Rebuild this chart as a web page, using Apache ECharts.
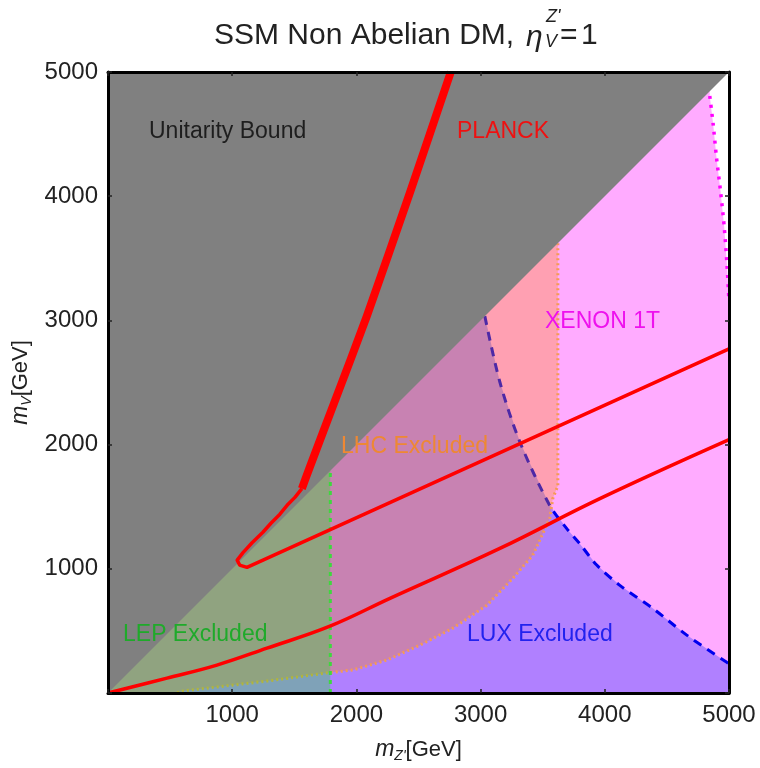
<!DOCTYPE html>
<html><head><meta charset="utf-8">
<script src="https://cdn.jsdelivr.net/npm/echarts@6/dist/echarts.min.js"></script>
<style>html,body{margin:0;padding:0;background:#fff}#c{width:760px;height:768px}</style>
</head><body><div id="c"></div>
<script>
// ---- data (GeV) ----
const axisTicks = [0, 1000, 2000, 3000, 4000, 5000];
const unitarityRegion = [[0, 0], [5000, 5000], [0, 5000]];
const xenonBoundary = [[4845, 4807], [4872, 4583], [4900, 4306], [4933, 4029], [4962, 3748], [4984, 3443], [5000, 3150]];
const luxBoundary = [[3034, 3034], [3155, 2504], [3316, 2022], [3557, 1509], [3694, 1324], [3800, 1200], [3935, 1030], [4121, 867], [4386, 682], [4660, 466], [4966, 257], [5000, 235]];
const lhcBoundary = [[3622, 3622], [3622, 1669], [3581, 1565], [3557, 1405], [3420, 1108], [3259, 923], [3050, 706], [2777, 522], [2511, 385], [2245, 265], [1972, 185], [1790, 165], [1280, 96], [604, 16], [550, 0]];
const lepBoundary = [[1790, 0], [1790, 1790]];
const planckThick = [[2760, 5000], [2431, 4029], [2084, 3034], [1827, 2352], [1626, 1822], [1561, 1645]];
const planckUpper = [[1561, 1645], [1505, 1575], [1450, 1520], [1384, 1440], [1310, 1365], [1247, 1294], [1160, 1210], [1087, 1130], [1040, 1070], [1060, 1030], [1119, 1012], [5000, 2770]];
const planckLower = [[0, 0], [475, 120], [877, 225], [1280, 361], [1787, 538], [2270, 762], [3155, 1164], [3960, 1565], [5000, 2040]];

// ---- regions built from the boundaries (upper parts are hidden under the unitarity region) ----
const xenonRegion = [[0, 0], [0, 5000], [4845, 5000]].concat(xenonBoundary, [[5000, 0]]);
const luxRegion = [[0, 0], [0, 5000], [3034, 5000]].concat(luxBoundary, [[5000, 0]]);
const lhcRegion = [[0, 0], [0, 5000], [3622, 5000]].concat(lhcBoundary);
const lepRegion = [[0, 0], [0, 5000], [1790, 5000], [1790, 0]];

function poly(pts, fill, z) {
  return {
    type: 'custom', coordinateSystem: 'cartesian2d', data: [[0, 0]], z: z, silent: true, clip: true,
    renderItem: function (p, api) {
      return { type: 'polygon', shape: { points: pts.map(function (q) { return api.coord(q); }) }, style: { fill: fill } };
    }
  };
}
function line(pts, color, width, type, z, smooth) {
  return { type: 'line', data: pts, symbol: 'none', showSymbol: false, smooth: smooth || false, z: z, silent: true, clip: true,
    lineStyle: { color: color, width: width, type: type, cap: 'butt', join: 'round' } };
}

const tickFont = { fontFamily: 'Liberation Sans', fontSize: 24, color: '#222' };
const nameRich = {
  m: { fontFamily: 'Liberation Sans', fontStyle: 'italic', fontSize: 23, color: '#222' },
  s: { fontFamily: 'Liberation Sans', fontStyle: 'italic', fontSize: 14, color: '#222', padding: [12, 0, 0, 0] },
  g: { fontFamily: 'Liberation Sans', fontSize: 22, color: '#222' }
};
function axisCommon(showLabel) {
  return {
    type: 'value', min: 0, max: 5000, interval: 1000, z: 10,
    axisLine: { show: true, onZero: false, lineStyle: { color: '#000', width: 3 } },
    axisTick: { show: true, inside: true, length: 4, lineStyle: { color: '#222', width: 1.5 } },
    splitLine: { show: false },
    axisLabel: Object.assign({ show: showLabel, margin: 10, formatter: function (v) { return axisTicks.indexOf(v) > 0 ? String(v) : ''; } }, tickFont)
  };
}

const chart = echarts.init(document.getElementById('c'), null, { renderer: 'canvas' });
const txt = function (x, y, s, color, font) {
  return { type: 'text', x: x, y: y, z: 100,
    style: { text: s, fill: color, font: font || '23px "Liberation Sans"', textVerticalAlign: 'middle' } };
};
chart.setOption({
  animation: false,
  backgroundColor: '#fff',
  grid: { left: 108, right: 31, top: 72, bottom: 73 },
  xAxis: [
    Object.assign(axisCommon(true), { position: 'bottom', name: "{m|m}{s|Z'}{g|[GeV]}", nameLocation: 'middle', nameGap: 44, nameTextStyle: { rich: nameRich } }),
    Object.assign(axisCommon(false), { position: 'top' })
  ],
  yAxis: [
    Object.assign(axisCommon(true), { position: 'left', name: '{m|m}{s|V}{g|[GeV]}', nameLocation: 'middle', nameRotate: 90, nameGap: 48, nameTextStyle: { rich: nameRich } }),
    Object.assign(axisCommon(false), { position: 'right' })
  ],
  series: [
    poly(xenonRegion, '#ffabff', 1),
    poly(luxRegion, '#b080ff', 2),
    line(luxBoundary, '#0000ee', 3, [9, 7], 3, 0.3),
    line(xenonBoundary, '#ff00ff', 3.5, [3, 6], 3, 0.3),
    poly(lhcRegion, 'rgba(255,135,0,0.3)', 4),
    line(lhcBoundary, '#f59a55', 3, [2, 3], 5),
    poly(lepRegion, 'rgba(0,250,0,0.28)', 6),
    line(lepBoundary, '#3ed83e', 3, [4, 5], 7),
    poly(unitarityRegion, '#808080', 8),
    line(planckLower, '#ff0000', 3.5, 'solid', 9, 0.4),
    line(planckUpper, '#ff0000', 3.5, 'solid', 9),
    line(planckThick, '#ff0000', 8, 'solid', 9, 0.2)
  ],
  graphic: [
    txt(214, 36, 'SSM Non Abelian DM, ', '#222', '30px "Liberation Sans"'),
    txt(526, 38, 'η', '#222', 'italic 30px "Liberation Sans"'),
    txt(546, 17, "Z'", '#222', 'italic 18px "Liberation Sans"'),
    txt(545, 42, 'V', '#222', 'italic 18px "Liberation Sans"'),
    txt(560, 36, '=', '#222', '30px "Liberation Sans"'),
    txt(581, 36, '1', '#222', '30px "Liberation Sans"'),
    txt(149, 132, 'Unitarity Bound', '#1e1e1e'),
    txt(457, 132, 'PLANCK', '#ee1111'),
    txt(545, 322, 'XENON 1T', '#ee11ee'),
    txt(341, 447, 'LHC Excluded', '#ee8833'),
    txt(123, 635, 'LEP Excluded', '#1faa2a'),
    txt(467, 635, 'LUX Excluded', '#2222ee')
  ]
});
</script></body></html>
